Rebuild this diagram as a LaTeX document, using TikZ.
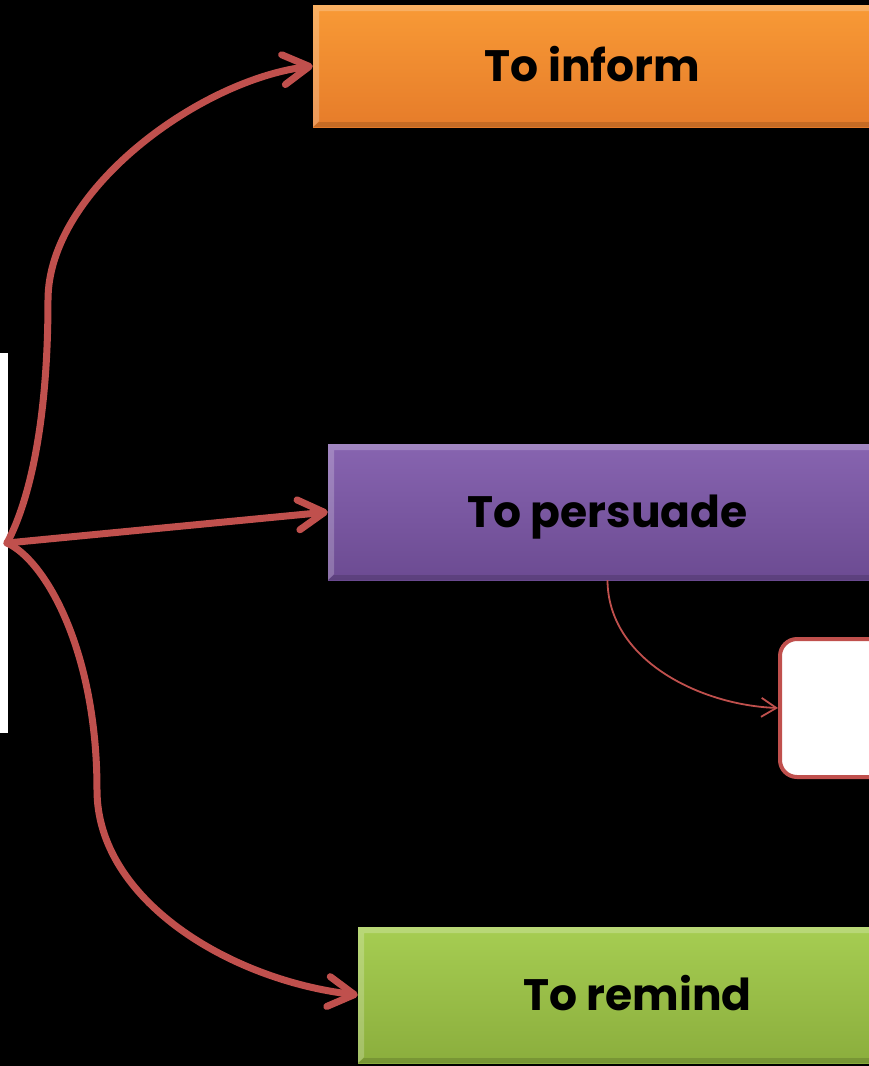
\documentclass[tikz,border=0pt]{standalone}
\usepackage{fontspec}
\setmainfont{Poppins}
\usetikzlibrary{arrows.meta}
\definecolor{arrowred}{HTML}{C0504D}
\definecolor{orgtop}{HTML}{F89A36}
\definecolor{orgbot}{HTML}{E67C2A}
\definecolor{purtop}{HTML}{8764B0}
\definecolor{purbot}{HTML}{6C4B92}
\definecolor{grntop}{HTML}{A6CD52}
\definecolor{grnbot}{HTML}{8BAE3D}
\tikzset{
  bevelbox/.style={rectangle, inner sep=0pt, text depth=0pt, text height=30pt,
    font=\fontsize{44}{50}\selectfont\bfseries, text=black,
    path picture={
      \fill[white,opacity=0.22] (path picture bounding box.north west) -- (path picture bounding box.north east)
        -- ([yshift=-6pt]path picture bounding box.north east) -- ([xshift=6pt,yshift=-6pt]path picture bounding box.north west)
        -- ([xshift=6pt,yshift=6pt]path picture bounding box.south west) -- (path picture bounding box.south west) -- cycle;
      \fill[black,opacity=0.14] (path picture bounding box.south west) -- (path picture bounding box.south east)
        -- ([yshift=5pt]path picture bounding box.south east) -- ([xshift=6pt,yshift=5pt]path picture bounding box.south west) -- cycle;
    }},
  bigarrow/.style={draw=arrowred, line width=7pt, line cap=round,
    -{Straight Barb[length=26pt,width=30pt,round]}},
  smallarrow/.style={draw=arrowred, line width=1.8pt,
    -{Straight Barb[length=15pt,width=19pt]}},
}
\begin{document}
\begin{tikzpicture}[x=1pt,y=-1pt]
\fill[black] (0,0) rectangle (869,1066);
\useasboundingbox (0,0) rectangle (869,1066);
\clip (0,0) rectangle (869,1066);

\node[fill=white, minimum width=8pt, minimum height=380pt, inner sep=0pt] (bar) at (4,543) {};

\node[bevelbox, top color=orgtop, bottom color=orgbot, minimum width=559pt, minimum height=122pt] (inform) at (592.5,66) {To inform};
\node[bevelbox, top color=purtop, bottom color=purbot, minimum width=559pt, minimum height=136pt] (persuade) at (607.5,512) {To persuade};
\node[bevelbox, top color=grntop, bottom color=grnbot, minimum width=559pt, minimum height=136pt] (remind) at (637.5,995) {To remind};

\node[draw=arrowred, fill=white, line width=4pt, rounded corners=17pt, minimum width=180pt, minimum height=138pt, inner sep=0pt] (note) at (870,708) {};

\coordinate (origin) at (7,543);

\draw[bigarrow] (origin) .. controls (30,500) and (48,420) .. (48,300)
  .. controls (48,190) and (200,80) .. (inform.west);
\draw[bigarrow] (origin) -- (persuade.west);
\draw[bigarrow] (origin) .. controls (45,560) and (97,650) .. (97,790)
  .. controls (97,900) and (230,980) .. (remind.west);
\draw[smallarrow] (persuade.south) .. controls (608,660) and (700,705) .. (note.west);
\end{tikzpicture}
\end{document}
